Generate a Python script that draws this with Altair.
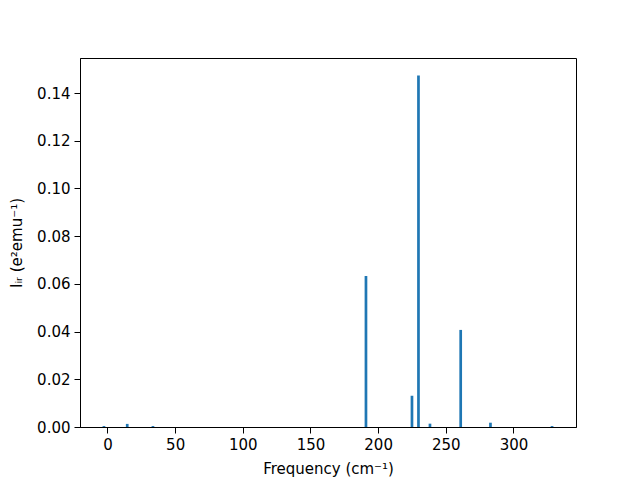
import altair as alt
import pandas as pd

freq = [-2.6, 14.6, 33.6, 191.0, 225.0, 229.8, 238.3, 261.0, 283.0, 328.5]
intensity = [0.0004, 0.0013, 0.0004, 0.0633, 0.0131, 0.1474, 0.0014, 0.0407, 0.0018, 0.0004]
x_ticks = [0, 50, 100, 150, 200, 250, 300]
y_ticks = [0.0, 0.02, 0.04, 0.06, 0.08, 0.10, 0.12, 0.14]

df = pd.DataFrame({"freq": freq, "inten": intensity})

font = "DejaVu Sans"

chart = (
    alt.Chart(df)
    .transform_calculate(x0="datum.freq - 1", x1="datum.freq + 1")
    .mark_bar(color="#1f77b4")
    .encode(
        x=alt.X(
            "x0:Q",
            scale=alt.Scale(domain=[-20.3, 346.2], nice=False, zero=False),
            axis=alt.Axis(
                values=x_ticks,
                title="Frequency (cm⁻¹)",
                format="d",
                grid=False,
                titlePadding=9,
            ),
        ),
        x2="x1:Q",
        y=alt.Y(
            "inten:Q",
            scale=alt.Scale(domain=[0, 0.1547], nice=False),
            axis=alt.Axis(
                values=y_ticks,
                format=".2f",
                title="Iᵢᵣ (e²emu⁻¹)",
                grid=False,
                titlePadding=12,
            ),
        ),
        y2=alt.datum(0),
    )
    .properties(
        width=496,
        height=369,
        autosize=alt.AutoSizeParams(type="none"),
        padding={"left": 72, "top": 50, "right": 56, "bottom": 52},
    )
    .configure_view(stroke="black", strokeWidth=1)
    .configure_axis(
        domainColor="black",
        domainWidth=1,
        tickColor="black",
        tickSize=6,
        tickWidth=1,
        labelFont=font,
        labelFontSize=15,
        labelColor="black",
        labelPadding=4,
        titleFont=font,
        titleFontSize=15,
        titleFontWeight="normal",
        titleColor="black",
    )
)

chart.save("out.html", embed_options={"renderer": "svg", "actions": False})
